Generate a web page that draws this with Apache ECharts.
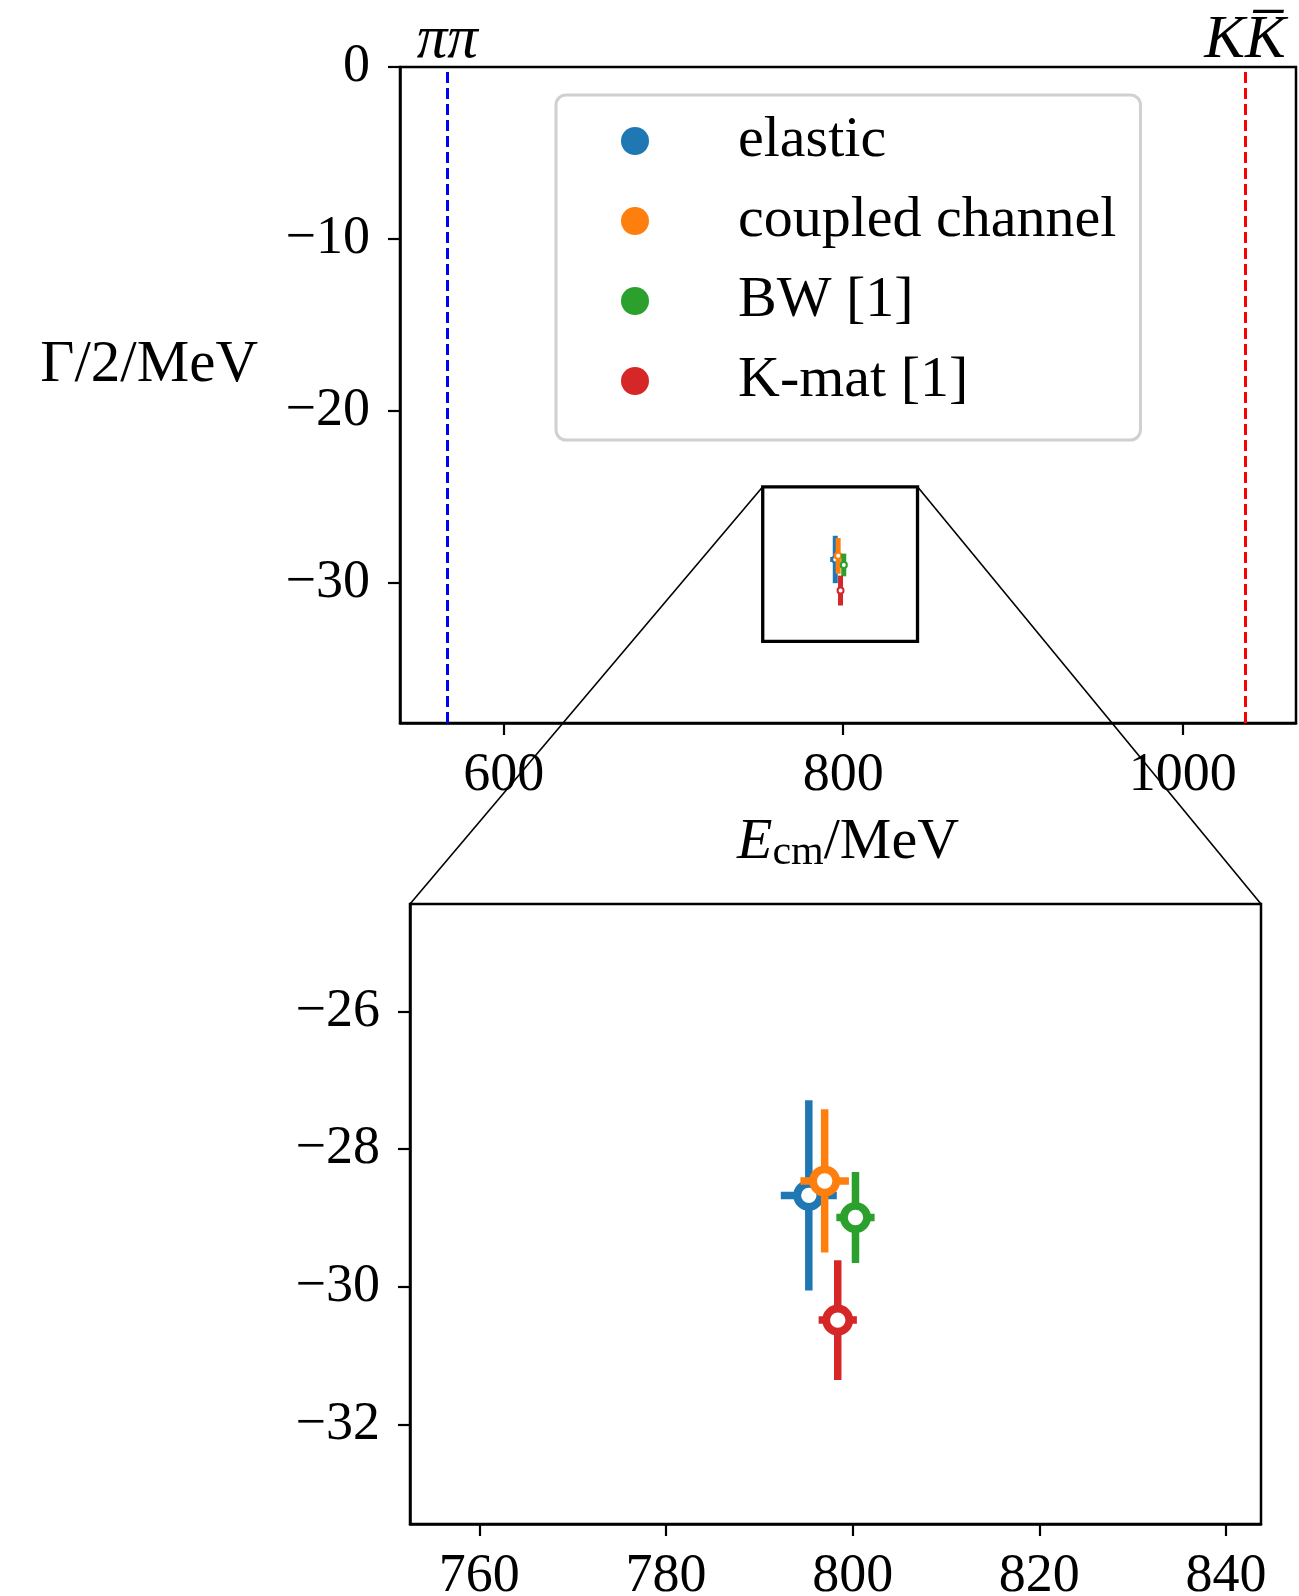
<!DOCTYPE html>
<html><head><meta charset="utf-8">
<script src="https://cdn.jsdelivr.net/npm/echarts@6/dist/echarts.min.js"></script>
<style>html,body{margin:0;padding:0;background:#fff}#c{width:1299px;height:1596px}</style>
</head><body><div id="c"></div>
<script>
// ---- data ----
const seriesNames = ['elastic', 'coupled channel', 'BW [1]', 'K-mat [1]'];
const seriesColors = ['#1f77b4', '#ff7f0e', '#2ca02c', '#d62728'];
const poleE = [795.3, 797.0, 800.3, 798.4];
const poleEErr = [3.0, 2.6, 2.05, 2.05];
const poleHalfWidth = [-28.67, -28.46, -28.99, -30.48];
const poleHalfWidthErr = [1.38, 1.04, 0.66, 0.87];
const thresholdE = [566.8, 1036.6];
const thresholdLabels = ['\u03c0\u03c0', 'KK\u0305'];
const thresholdColors = ['#0000ff', '#ff0000'];
const mainXRange = [538.9, 1066.7];
const mainYRange = [-38.19, 0];
const zoomXRange = [752.57, 843.75];
const zoomYRange = [-33.44, -24.44];
const mainXTicks = [600, 800, 1000];
const mainYTicks = [0, -10, -20, -30];
const zoomXTicks = [760, 780, 800, 820, 840];
const zoomYTicks = [-26, -28, -30, -32];

const FONT = "'Liberation Serif', 'DejaVu Serif', serif";
const fmt = v => (v < 0 ? '\u2212' + (-v) : String(v));

const chart = echarts.init(document.getElementById('c'));

function axisCommon(ticks, margin) {
  return {
    type: 'value',
    splitLine: { show: false },
    axisLine: { show: true, onZero: false, lineStyle: { color: '#000', width: 2.5 } },
    axisTick: { show: true, inside: false, length: 12, customValues: ticks, lineStyle: { color: '#000', width: 2.2 } },
    axisLabel: { customValues: ticks, formatter: fmt, fontFamily: FONT, fontSize: 54, color: '#000', margin: margin }
  };
}

const pointSeries = [];
[0, 1].forEach(g => {
  const lw = g === 0 ? 5 : 7.5;
  const r = g === 0 ? 3 : 11.6;
  const bw = g === 0 ? 2 : 7.8;
  seriesNames.forEach((name, i) => {
    pointSeries.push({
      type: 'custom', name: name, xAxisIndex: g, yAxisIndex: g,
      itemStyle: { color: seriesColors[i] },
      data: [[poleE[i], poleHalfWidth[i], poleEErr[i], poleHalfWidthErr[i]]],
      z: 10 + i,
      renderItem: (params, api) => {
        const x = api.value(0), y = api.value(1), dx = api.value(2), dy = api.value(3);
        const c = api.coord([x, y]);
        const L = api.coord([x - dx, y]), R = api.coord([x + dx, y]);
        const T = api.coord([x, y + dy]), B = api.coord([x, y - dy]);
        const col = seriesColors[i];
        return { type: 'group', children: [
          { type: 'line', shape: { x1: L[0], y1: L[1], x2: R[0], y2: R[1] }, style: { stroke: col, lineWidth: lw } },
          { type: 'line', shape: { x1: T[0], y1: T[1], x2: B[0], y2: B[1] }, style: { stroke: col, lineWidth: lw } },
          { type: 'circle', shape: { cx: c[0], cy: c[1], r: r }, style: { fill: '#fff', stroke: col, lineWidth: bw } }
        ] };
      }
    });
  });
});

const boxSeries = {
  type: 'custom', name: 'zoombox', xAxisIndex: 0, yAxisIndex: 0, z: 5,
  data: [[zoomXRange[0], zoomXRange[1], zoomYRange[0], zoomYRange[1]]],
  renderItem: (params, api) => {
    const p0 = api.coord([api.value(0), api.value(3)]);
    const p1 = api.coord([api.value(1), api.value(2)]);
    return { type: 'rect', shape: { x: p0[0], y: p0[1], width: p1[0] - p0[0], height: p1[1] - p0[1] },
      style: { fill: 'none', stroke: '#000', lineWidth: 3.3 } };
  },
  markLine: {
    silent: true, symbol: 'none', animation: false,
    data: thresholdE.map((v, i) => ({
      xAxis: v,
      lineStyle: { color: thresholdColors[i], type: [11, 5], width: 3 },
      label: { show: true, position: 'end', distance: -4, formatter: thresholdLabels[i],
        fontFamily: FONT, fontStyle: 'italic', fontSize: 61, color: '#000' }
    }))
  }
};

const option = {
  animation: false,
  backgroundColor: '#fff',
  grid: [
    { left: 400, top: 67, width: 896, height: 656, outerBoundsMode: 'none', show: true, borderColor: '#000', borderWidth: 2.5, backgroundColor: 'transparent' },
    { left: 410, top: 904, width: 851, height: 620, outerBoundsMode: 'none', show: true, borderColor: '#000', borderWidth: 2.5, backgroundColor: 'transparent' }
  ],
  xAxis: [
    Object.assign(axisCommon(mainXTicks, 26), { gridIndex: 0, min: mainXRange[0], max: mainXRange[1],
      name: '{e|E}{s|cm}{n|/MeV}', nameLocation: 'middle', nameGap: 89,
      nameTextStyle: { rich: {
        e: { fontFamily: FONT, fontStyle: 'italic', fontSize: 58, color: '#000' },
        s: { fontFamily: FONT, fontSize: 42, color: '#000', padding: [20, 0, 0, 0] },
        n: { fontFamily: FONT, fontSize: 58, color: '#000' }
      } } }),
    Object.assign(axisCommon(zoomXTicks, 26), { gridIndex: 1, min: zoomXRange[0], max: zoomXRange[1] })
  ],
  yAxis: [
    Object.assign(axisCommon(mainYTicks, 30), { gridIndex: 0, min: mainYRange[0], max: mainYRange[1],
      name: '\u0393/2/MeV', nameLocation: 'middle', nameRotate: 0, nameGap: 142,
      nameTextStyle: { fontFamily: FONT, fontSize: 59, color: '#000', verticalAlign: 'bottom' } }),
    Object.assign(axisCommon(zoomYTicks, 30), { gridIndex: 1, min: zoomYRange[0], max: zoomYRange[1] })
  ],
  legend: {
    show: true, orient: 'vertical', left: 556, top: 95,
    padding: [17, 24, 30, 65], itemGap: 22, itemWidth: 28, itemHeight: 28,
    icon: 'circle', backgroundColor: '#fff', borderColor: '#d0d0d0', borderWidth: 3, borderRadius: 10,
    textStyle: { fontFamily: FONT, fontSize: 58, color: '#000', padding: [0, 0, 0, 84], lineHeight: 57 },
    data: seriesNames.map((n, i) => ({ name: n, itemStyle: { color: seriesColors[i], borderWidth: 0 } }))
  },
  series: [boxSeries].concat(pointSeries)
};
chart.setOption(option);

// connector lines from zoom box corners (top plot) to zoom axes corners (bottom plot)
const a0 = chart.convertToPixel({ gridIndex: 0 }, [zoomXRange[0], zoomYRange[1]]);
const a1 = chart.convertToPixel({ gridIndex: 0 }, [zoomXRange[1], zoomYRange[1]]);
const b0 = chart.convertToPixel({ gridIndex: 1 }, [zoomXRange[0], zoomYRange[1]]);
const b1 = chart.convertToPixel({ gridIndex: 1 }, [zoomXRange[1], zoomYRange[1]]);
chart.setOption({ graphic: [
  { type: 'line', z: 100, shape: { x1: a0[0], y1: a0[1], x2: b0[0], y2: b0[1] }, style: { stroke: '#000', lineWidth: 1.6 } },
  { type: 'line', z: 100, shape: { x1: a1[0], y1: a1[1], x2: b1[0], y2: b1[1] }, style: { stroke: '#000', lineWidth: 1.6 } }
] });
</script></body></html>
